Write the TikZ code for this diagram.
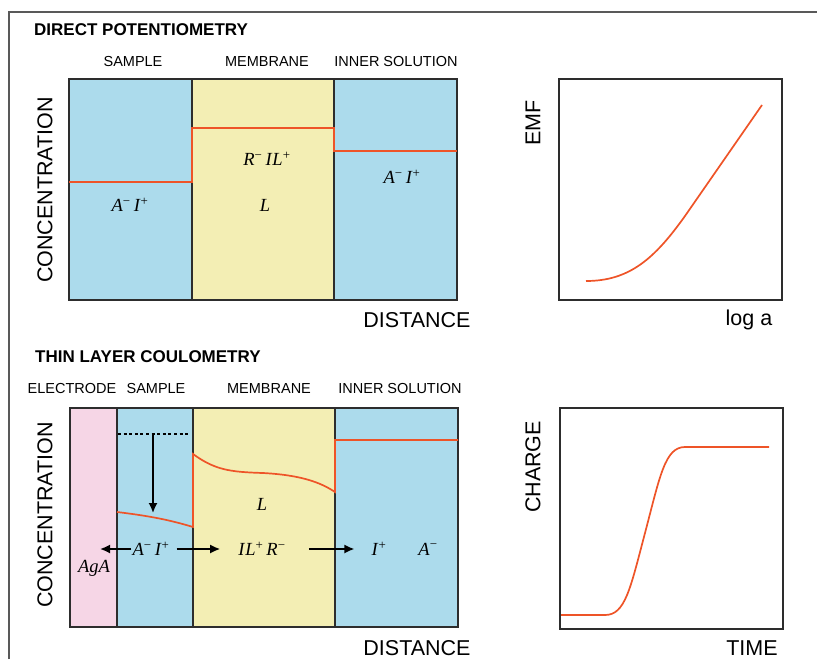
\documentclass[tikz,border=0pt]{standalone}
\usepackage{fontspec}
\setmainfont{Liberation Serif}
\setsansfont{Liberation Sans}
\usetikzlibrary{arrows.meta,positioning}
\definecolor{solblue}{RGB}{172,219,236}
\definecolor{membyellow}{RGB}{243,238,180}
\definecolor{electpink}{RGB}{246,214,230}
\definecolor{curvered}{RGB}{238,84,40}
\definecolor{boxgray}{RGB}{45,45,45}
\newcommand\chemsp[2]{\textit{#1}\textsuperscript{#2}}

\begin{document}
\begin{tikzpicture}[x=1pt,y=-1pt,
  ttl/.style={font=\sffamily\bfseries\fontsize{17}{19}\selectfont,anchor=west,inner sep=0pt},
  zone/.style={font=\sffamily\fontsize{14.5}{16}\selectfont},
  axlbl/.style={font=\sffamily\fontsize{21.5}{24}\selectfont},
  spec/.style={font=\fontsize{18.5}{20}\selectfont,inner sep=1pt},
  frame/.style={draw=boxgray,line width=1.8pt},
  trace/.style={draw=curvered,line width=1.7pt},
  arr/.style={-{Latex[length=10pt,width=9pt]},line width=1.7pt}]
  \useasboundingbox (0,0) rectangle (817,659);
  \draw[gray!70!black,line width=1.2pt] (9,659) |- (817,12);

  % direct potentiometry
  \node[ttl] (dptitle) at (34,30) {DIRECT POTENTIOMETRY};
  \node[zone] (dpsample) at (133,62) {SAMPLE};
  \node[zone] (dpmemb) at (267,62) {MEMBRANE};
  \node[zone] (dpinner) at (396,62) {INNER SOLUTION};
  \fill[solblue] (69,79) rectangle (192,300);
  \fill[membyellow] (192,79) rectangle (334,300);
  \fill[solblue] (334,79) rectangle (457,300);
  \draw[frame] (69,79) rectangle (457,300) (192,79) -- (192,300) (334,79) -- (334,300);
  \draw[trace] (69,182) -- (192,182) -- (192,128) -- (334,128) -- (334,151) -- (457,151);
  \node[spec] (dpsampai) at (130,205) {\chemsp{A}{−}\,\chemsp{I}{+}};
  \node[spec] (dpmembrl) at (267,159) {\chemsp{R}{−}\,\textit{I}\chemsp{L}{+}};
  \node[spec] (dpmembl) at (265,205) {\textit{L}};
  \node[spec] (dpinnai) at (402,177) {\chemsp{A}{−}\,\chemsp{I}{+}};
  \node[axlbl,rotate=90] (dpconc) at (45,190) {CONCENTRATION};
  \node[axlbl] (dpdist) at (417,320) {DISTANCE};

  \draw[frame] (559,79) rectangle (782,300);
  \draw[trace] (586,281) .. controls (630,281) and (655,258) .. (685,216) -- (762,105);
  \node[axlbl,rotate=90] (emf) at (533,123) {EMF};
  \node[axlbl] (loga) at (749,320) {log a};

  % thin layer coulometry
  \node[ttl] (tltitle) at (35,357) {THIN LAYER COULOMETRY};
  \node[zone] (tlelect) at (72,389) {ELECTRODE};
  \node[zone] (tlsample) at (156,389) {SAMPLE};
  \node[zone] (tlmemb) at (269,389) {MEMBRANE};
  \node[zone] (tlinner) at (400,389) {INNER SOLUTION};
  \fill[electpink] (70,408) rectangle (117,627);
  \fill[solblue] (117,408) rectangle (193,627);
  \fill[membyellow] (193,408) rectangle (335,627);
  \fill[solblue] (335,408) rectangle (458,627);
  \draw[frame] (70,408) rectangle (458,627) (117,408) -- (117,627) (193,408) -- (193,627) (335,408) -- (335,627);
  \coordinate (dotstart) at (118,434);
  \coordinate (dotend) at (190,434);
  \coordinate (dropstart) at (153,434);
  \coordinate (dropend) at (153,513);
  \draw[line width=1.4pt,dash pattern=on 3pt off 2.6pt] (dotstart) -- (dotend);
  \draw[arr] (dropstart) -- (dropend);
  \draw[trace] (117,512) .. controls (150,516) and (170,520) .. (193,527) -- (193,454)
    .. controls (215,470) and (230,472) .. (263,473)
    .. controls (300,475) and (320,482) .. (335,492) -- (335,440) -- (458,440);
  \node[spec] (tlsampai) at (151,549) {\chemsp{A}{−}\,\chemsp{I}{+}};
  \node[spec] (tlaga) at (94,568) {\textit{AgA}};
  \node[spec] (tlmembl) at (262,504) {\textit{L}};
  \node[spec] (tlilr) at (262,549) {\textit{I}\chemsp{L}{+}\,\chemsp{R}{−}};
  \node[spec] (tliplus) at (379,549) {\chemsp{I}{+}};
  \node[spec] (tlaminus) at (428,549) {\chemsp{A}{−}};
  \coordinate (agtip) at (100,549);
  \draw[arr] (tlsampai) -- (agtip);
  \draw[arr,shorten <=6pt,shorten >=17pt] (tlsampai) -- (tlilr);
  \draw[arr,shorten <=22pt,shorten >=16pt] (tlilr) -- (tliplus);
  \node[axlbl,rotate=90] (tlconc) at (45,515) {CONCENTRATION};
  \node[axlbl] (tldist) at (417,648) {DISTANCE};

  \draw[frame] (560,408) rectangle (783,629);
  \draw[trace] (561,615) -- (605,615) .. controls (625,615) and (630,590) .. (645,533)
    .. controls (660,476) and (665,447) .. (685,447) -- (769,447);
  \node[axlbl,rotate=90] (charge) at (533,467) {CHARGE};
  \node[axlbl] (time) at (752,648) {TIME};
\end{tikzpicture}
\end{document}
